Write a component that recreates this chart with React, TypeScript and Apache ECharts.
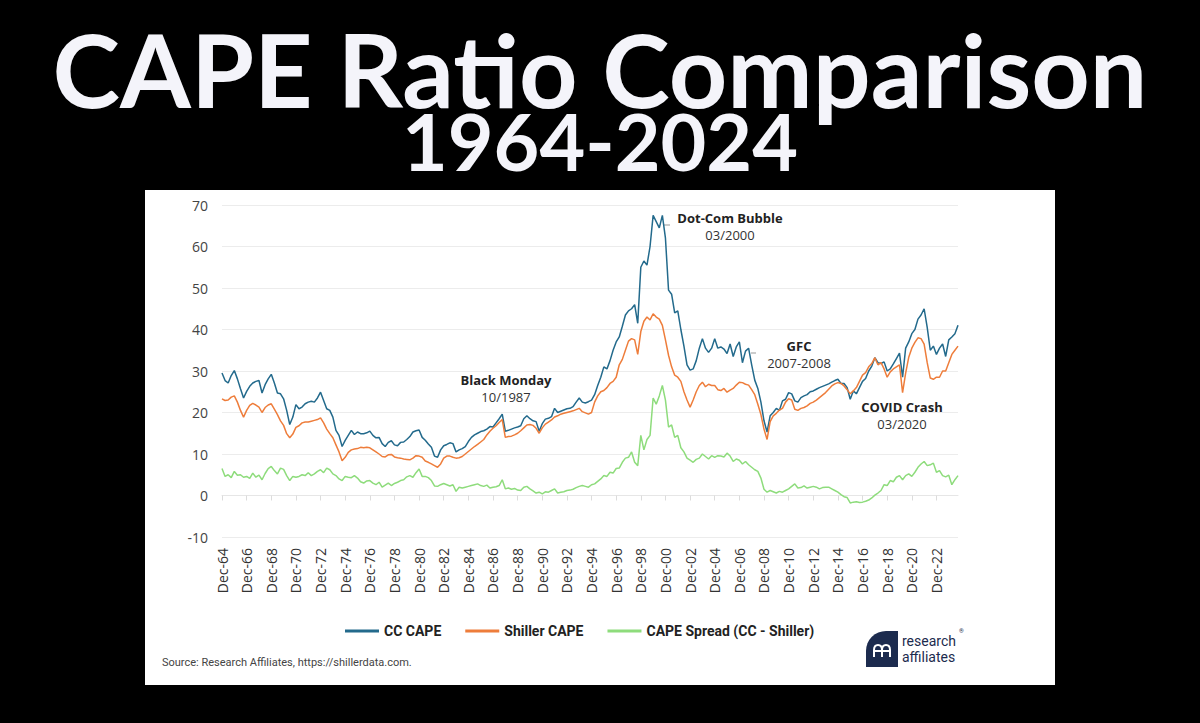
import React, { useEffect, useRef } from "react";
import * as echarts from "echarts";

// Quarterly observations, Dec-1964 .. Sep-2024
const quarterMonths = ["Dec", "Mar", "Jun", "Sep"];

const ccCape = [
  29.5, 27.7, 27.1, 28.9, 30.1, 28.1, 25.7, 23.5, 25.1, 26.3,
  27.1, 27.5, 27.7, 24.7, 26.7, 28.1, 29.2, 27.1, 24.7, 24.5,
  23.3, 20.5, 17.1, 18.9, 21.9, 20.9, 21.3, 22.1, 22.5, 22.7,
  22.5, 23.5, 24.9, 22.9, 20.9, 20.5, 18.9, 15.7, 14.5, 11.8,
  13.3, 14.5, 15.7, 14.7, 15.3,
  14.9, 14.9, 15.1, 15.5, 14.5, 13.9, 14.0, 12.5, 11.8, 12.8,
  13.2, 12.2, 12.0, 12.8, 12.9, 13.5, 14.2, 15.3, 15.6, 15.8,
  14.0, 13.3, 12.4, 11.6, 9.5, 9.2, 11.0, 12.0, 12.3, 12.7,
  12.5, 10.5, 11.0, 11.3, 11.8, 13.0, 14.0, 14.6, 15.0, 15.4,
  15.6, 16.0, 16.6, 16.5, 17.5, 18.5, 19.6,
  15.5, 15.7, 16.0, 16.3, 16.5, 16.8, 18.5, 19.2, 18.5, 18.0,
  17.8, 15.5, 17.3, 18.4, 18.6, 19.0, 21.0, 20.0, 20.3, 20.6,
  20.9, 21.0, 21.4, 22.5, 23.5, 22.5, 22.3, 22.6, 23.0, 24.3,
  26.5, 28.5, 31.0, 30.5, 32.5, 35.0, 37.0, 38.2, 40.8, 43.5,
  44.5, 45.0, 46.0, 41.5, 55.0, 56.5, 55.5, 60.0,
  67.5, 66.0, 64.5, 67.5, 62.0, 49.5, 48.5, 44.0, 44.5, 40.0,
  36.0, 31.5, 30.2, 30.5, 32.5, 35.5, 37.8, 35.5, 34.5, 35.5,
  37.8, 35.5, 35.8, 35.3, 34.2, 36.5, 33.5, 35.8, 37.0, 32.0,
  34.8, 35.5, 31.5, 27.8, 25.8, 22.5, 18.0, 15.3, 19.2, 20.0,
  21.0, 20.5, 22.8, 23.2, 24.8, 24.5, 22.8, 22.5,
  23.6, 24.0, 24.3, 25.0, 25.2, 25.6, 26.0, 26.3, 26.6, 26.9,
  27.3, 27.7, 28.0, 27.0, 27.0, 26.0, 23.2, 25.2, 24.5, 26.0,
  27.5, 28.2, 30.0, 31.2, 33.2, 32.0, 31.8, 32.2, 30.0, 30.5,
  31.7, 33.0, 34.3, 28.5, 35.5, 37.0, 39.0, 40.0, 42.5, 43.5,
  45.0, 40.5, 35.0, 36.0, 34.0, 35.5, 36.5, 33.5, 37.5, 38.2,
  39.0, 41.0,
];

const shillerCape = [
  23.3, 22.9, 23.0, 23.7, 24.0, 22.5, 20.5, 18.9, 20.5, 21.7,
  22.2, 21.8, 21.3, 20.0, 21.2, 21.8, 22.1, 20.8, 19.5, 18.0,
  16.9, 14.9, 13.9, 14.8, 16.4, 16.8, 17.5, 17.7, 17.7, 17.9,
  18.1, 18.3, 18.7, 17.5, 16.0, 14.9, 13.9, 12.2, 10.5, 8.4,
  9.2, 10.4, 11.0, 11.2, 11.3,
  11.6, 11.5, 11.6, 11.5, 11.0, 10.5, 10.0, 9.4, 9.3, 9.8,
  9.9, 9.3, 9.1, 9.0, 8.8, 8.7, 8.6, 9.0, 9.6, 9.5,
  9.2, 8.3, 8.0, 7.6, 7.2, 6.8, 7.6, 9.0, 9.5, 9.5,
  9.2, 9.0, 9.1, 9.4, 10.0, 10.6, 11.2, 11.8, 12.3, 12.9,
  13.5, 14.6, 15.5, 16.2, 16.8, 17.6, 18.3,
  14.0, 14.2, 14.3, 14.6, 15.0, 15.6, 16.3, 17.0, 17.1, 16.9,
  16.2, 15.0, 16.3, 17.2, 17.7, 18.2, 18.9, 19.2, 19.6, 19.8,
  20.0, 20.2, 20.4, 20.7, 21.0, 20.2, 19.9, 19.6, 20.0, 22.5,
  24.0, 25.0, 25.3, 26.0, 27.0, 27.5, 28.5, 31.5, 32.8, 35.0,
  37.2, 37.8, 37.5, 34.0, 39.5, 42.0, 43.0, 42.3,
  43.8, 43.0, 42.5, 41.0, 37.5, 33.8, 31.0, 29.0, 28.5, 27.5,
  25.0, 23.0, 21.3, 23.0, 25.0, 26.5, 27.3, 26.2, 26.8, 26.5,
  26.5, 25.5, 25.3, 25.8, 24.9, 25.4, 25.8, 26.6, 27.3, 27.2,
  26.8, 26.6, 25.5, 24.3, 22.0, 19.5, 16.0, 13.5, 17.8, 19.2,
  19.8, 20.6, 21.0, 22.5, 23.3, 23.0, 20.8, 20.5,
  21.0, 21.2, 21.6, 22.2, 22.5, 23.0, 23.6, 24.2, 24.8, 25.6,
  26.4, 26.9, 27.2, 27.0, 26.4, 25.5, 24.5, 25.2, 26.0, 27.5,
  29.0, 29.6, 31.0, 31.8, 33.2, 31.5, 32.0, 30.5, 28.5, 29.8,
  30.5, 31.0, 31.5, 24.8, 29.5, 33.3, 35.5, 36.9, 38.0, 37.8,
  36.5, 32.0, 28.3, 28.0, 28.5, 28.5, 30.0, 30.0, 32.0, 34.0,
  35.0, 36.0,
];

const capeSpread = [
  6.5, 4.6, 5.0, 4.3, 5.8, 4.9, 5.0, 4.4, 4.6, 4.1,
  5.4, 4.4, 4.9, 3.8, 5.3, 6.5, 7.0, 6.0, 5.2, 6.6,
  6.3, 4.8, 3.6, 4.6, 4.4, 4.6, 5.0, 4.8, 5.5, 4.8,
  5.2, 5.8, 6.2, 5.5, 6.6, 6.2, 5.2, 4.8, 4.0, 3.6,
  4.6, 4.4, 4.3, 4.8, 4.2,
  3.3, 3.0, 3.5, 3.6, 3.0, 2.6, 3.2, 2.0, 2.5, 3.0,
  2.4, 2.9, 3.2, 3.6, 3.8, 4.5, 4.8, 4.4, 5.5, 6.4,
  4.6, 4.6, 4.3, 3.6, 2.3, 2.2, 2.6, 2.9, 2.6, 2.3,
  2.6, 1.0, 2.0, 1.8, 2.0, 2.2, 2.4, 2.6, 2.8, 2.4,
  2.2, 2.5, 1.8, 2.0, 2.1, 2.4, 3.8,
  1.6, 1.8, 1.5, 1.7, 1.3, 1.2, 2.0, 2.2, 1.6, 1.1,
  0.6, 0.8, 0.4, 0.9, 0.8, 1.2, 1.6, 0.6, 0.8, 0.9,
  1.2, 1.3, 1.5, 1.9, 2.2, 2.4, 2.2, 2.0, 2.6, 2.8,
  3.4, 4.0, 4.8, 4.6, 5.6, 5.4, 6.5, 6.6, 8.0, 9.0,
  9.2, 10.5, 8.0, 7.2, 14.5, 11.0, 13.5, 14.5,
  23.5, 22.0, 24.0, 26.5, 23.0, 16.5, 17.0, 14.0, 14.5, 11.5,
  10.5, 9.0, 8.5, 8.0, 8.7, 9.0, 10.0, 9.4, 8.8, 9.6,
  9.2, 9.6, 9.5, 9.3, 10.2, 9.5, 8.2, 8.8, 8.5, 7.6,
  8.2, 7.4, 6.8, 6.2, 5.8, 4.2, 1.5, 0.8, 1.2, 0.9,
  0.6, 1.0, 0.8, 1.2, 1.6, 2.2, 2.8, 1.8,
  1.9, 2.3, 1.8, 2.0, 2.2, 2.0, 1.6, 1.9, 2.0, 2.0,
  1.6, 1.2, 0.8, 0.2, -0.3, -0.5, -1.8, -1.6, -1.5, -1.7,
  -1.6, -1.4, -1.1, -0.6, 0.1, 0.6, 1.2, 2.6, 2.4, 3.6,
  3.3, 4.4, 4.8, 3.8, 4.8, 5.2, 4.6, 5.6, 6.8, 7.6,
  8.2, 7.2, 7.4, 7.8, 5.6, 6.0, 4.8, 4.5, 4.9, 2.6,
  3.8, 4.8,
];

const seriesNames = ["CC CAPE", "Shiller CAPE", "CAPE Spread (CC - Shiller)"];
const seriesColors = ["#236a8c", "#ee7d3b", "#8edc7c"];

const categories = ccCape.map((_, k) => {
  const yr = (64 + Math.ceil(k / 4)) % 100;
  return `${quarterMonths[k % 4]}-${String(yr).padStart(2, "0")}`;
});

const annotations = [
  { title: "Dot-Com Bubble", sub: "03/2000", x: 730, y: 218 },
  { title: "GFC", sub: "2007-2008", x: 799, y: 346 },
  { title: "Black Monday", sub: "10/1987", x: 506, y: 380 },
  { title: "COVID Crash", sub: "03/2020", x: 902, y: 407 },
];

const FONT = '"Open Sans", "Noto Sans", sans-serif';
const NARROW = '"Liberation Sans Narrow", "Roboto", "Open Sans", sans-serif';
const TITLE_FONT = "Lato, 'Open Sans', sans-serif";

echarts.graphic.registerShape(
  "raMark",
  echarts.graphic.extendPath(
    "M1,12 L1,5 Q1,0 5,0 Q9,0 9,5 L9,12 M9,5 Q9,0 13,0 Q17,0 17,5 L17,12 M1,6 L17,6",
    {}
  )
);

export default function App() {
  const ref = useRef<HTMLDivElement>(null);

  useEffect(() => {
    if (!ref.current) return;
    const chart = echarts.init(ref.current, null, { renderer: "svg" });

    const graphics: any[] = [
      {
        type: "text",
        x: 600,
        y: 30,
        style: {
          text: "{t|CAPE Ratio Comparison}\n{s|1964-2024}",
          align: "center",
          verticalAlign: "top",
          rich: {
            t: {
              fill: "#f4f4fa",
              fontSize: 102,
              lineHeight: 76,
              fontWeight: "bold",
              fontFamily: TITLE_FONT,
              align: "center",
            },
            s: {
              fill: "#f4f4fa",
              fontSize: 79,
              lineHeight: 68,
              fontWeight: "bold",
              fontFamily: TITLE_FONT,
              align: "center",
            },
          },
        },
      },
      {
        type: "text",
        x: 162,
        y: 662,
        style: {
          text: "Source: Research Affiliates, https://shillerdata.com.",
          fill: "#444",
          fontSize: 11,
          fontFamily: NARROW,
          align: "left",
          verticalAlign: "middle",
        },
      },
      // leader ticks
      { type: "line", shape: { x1: 664, y1: 225, x2: 670, y2: 225 }, style: { stroke: "#999", lineWidth: 1 } },
      { type: "line", shape: { x1: 751, y1: 353, x2: 756, y2: 353 }, style: { stroke: "#999", lineWidth: 1 } },
      // logo
      {
        type: "rect",
        shape: { x: 866, y: 631, width: 32, height: 36, r: [20, 0, 0, 0] },
        style: { fill: "#1c2b4e" },
      },
      {
        type: "raMark",
        x: 873,
        y: 645,
        style: { fill: "none", stroke: "#fff", lineWidth: 2 },
      },
      {
        type: "text",
        x: 902,
        y: 641,
        style: { text: "research", fill: "#1c2b4e", fontSize: 14, fontFamily: NARROW, verticalAlign: "middle" },
      },
      {
        type: "text",
        x: 902,
        y: 657,
        style: { text: "affiliates", fill: "#1c2b4e", fontSize: 14, fontFamily: NARROW, verticalAlign: "middle" },
      },
      {
        type: "text",
        x: 959,
        y: 630,
        style: { text: "®", fill: "#1c2b4e", fontSize: 6, fontFamily: NARROW, verticalAlign: "middle" },
      },
    ];

    annotations.forEach((a) => {
      graphics.push({
        type: "text",
        x: a.x,
        y: a.y,
        style: {
          text: a.title,
          fill: "#222",
          fontSize: 13,
          fontWeight: "bold",
          fontFamily: FONT,
          align: "center",
          verticalAlign: "middle",
        },
      });
      graphics.push({
        type: "text",
        x: a.x,
        y: a.y + 17,
        style: {
          text: a.sub,
          fill: "#333",
          fontSize: 13,
          fontFamily: FONT,
          align: "center",
          verticalAlign: "middle",
        },
      });
    });

    const showEvery8 = (index: number) => index % 8 === 0;

    chart.setOption({
      animation: false,
      backgroundColor: "transparent",
      grid: { left: 222, right: 242, top: 205, bottom: 186, containLabel: false },
      legend: {
        left: 340,
        top: 619,
        icon: "rect",
        itemWidth: 34,
        itemHeight: 3,
        itemGap: 24,
        textStyle: { fontFamily: NARROW, fontWeight: "bold", fontSize: 14, color: "#222" },
        data: seriesNames,
      },
      xAxis: [
        {
          type: "category",
          data: categories,
          boundaryGap: false,
          position: "bottom",
          axisLine: { show: false, onZero: false },
          axisTick: { show: false },
          splitLine: { show: false },
          axisLabel: {
            rotate: 90,
            interval: showEvery8,
            margin: 11,
            color: "#333",
            fontSize: 14,
            fontFamily: FONT,
          },
        },
        {
          type: "category",
          data: categories,
          boundaryGap: false,
          position: "top",
          axisLine: { show: true, onZero: true, lineStyle: { color: "#e6e6e6" } },
          axisTick: { show: true, inside: true, length: 5, interval: showEvery8, lineStyle: { color: "#dcdcdc" } },
          axisLabel: { show: false },
          splitLine: { show: false },
        },
      ],
      yAxis: {
        type: "value",
        min: -10,
        max: 70,
        interval: 10,
        axisLine: { show: false },
        axisTick: { show: false },
        axisLabel: { color: "#444", fontSize: 14, fontFamily: FONT, margin: 14 },
        splitLine: { lineStyle: { color: "#ececec", width: 1 } },
      },
      series: [
        { name: seriesNames[0], data: ccCape, color: seriesColors[0] },
        { name: seriesNames[1], data: shillerCape, color: seriesColors[1] },
        { name: seriesNames[2], data: capeSpread, color: seriesColors[2] },
      ].map((s) => ({
        type: "line",
        name: s.name,
        data: s.data,
        xAxisIndex: 0,
        symbol: "none",
        itemStyle: { color: s.color },
        lineStyle: { color: s.color, width: 1.5 },
      })),
      graphic: graphics,
    });

    return () => chart.dispose();
  }, []);

  return (
    <div style={{ position: "fixed", left: 0, top: 0, width: 1200, height: 723, background: "#000" }}>
      <div
        style={{ position: "absolute", left: 145, top: 190, width: 910, height: 495, background: "#fff" }}
      />
      <div ref={ref} style={{ position: "absolute", left: 0, top: 0, width: 1200, height: 723 }} />
    </div>
  );
}
